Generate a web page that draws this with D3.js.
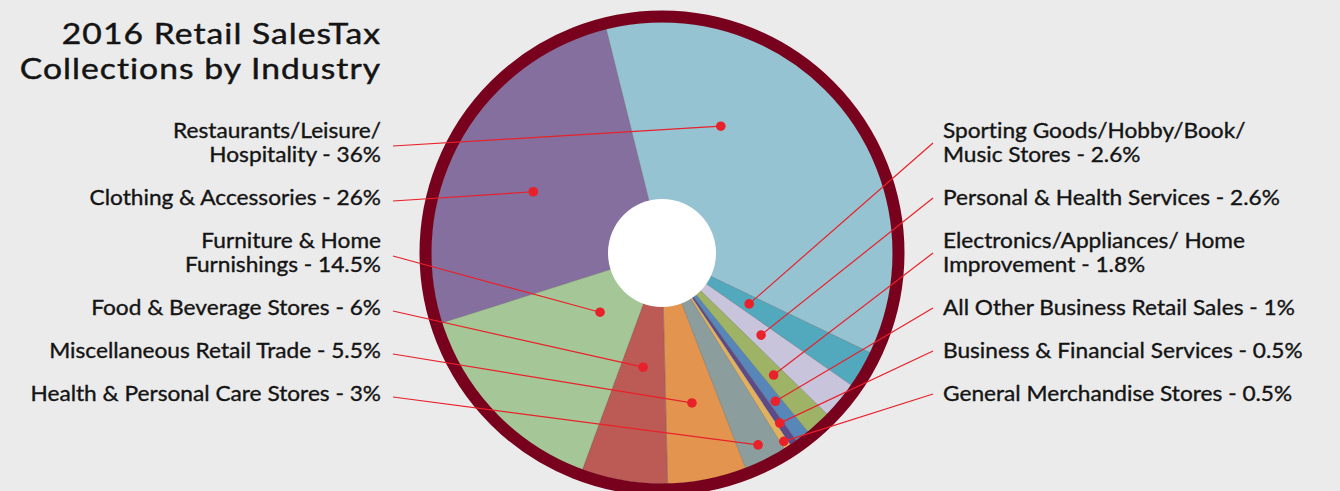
<!DOCTYPE html>
<html>
<head>
<meta charset="utf-8">
<script src="https://cdn.jsdelivr.net/npm/d3@7"></script>
<style>
  html, body { margin: 0; padding: 0; background: #ebebeb; }
  svg { display: block; }
  text { font-family: Lato, "Noto Sans", sans-serif; fill: #141414; }
</style>
</head>
<body>
<svg id="chart" width="1340" height="491"></svg>
<script>
// ---- data ----
const title = ["2016 Retail SalesTax", "Collections by Industry"];
const categories = [
  "Restaurants/Leisure/Hospitality",
  "Sporting Goods/Hobby/Book/Music Stores",
  "Personal & Health Services",
  "Electronics/Appliances/ Home Improvement",
  "All Other Business Retail Sales",
  "Business & Financial Services",
  "General Merchandise Stores",
  "Health & Personal Care Stores",
  "Miscellaneous Retail Trade",
  "Food & Beverage Stores",
  "Furniture & Home Furnishings",
  "Clothing & Accessories"
];
const values = [36, 2.6, 2.6, 1.8, 1, 0.5, 0.5, 3, 5.5, 6, 14.5, 26];
const labelLines = [
  ["Restaurants/Leisure/", "Hospitality"],
  ["Sporting Goods/Hobby/Book/", "Music Stores"],
  ["Personal & Health Services"],
  ["Electronics/Appliances/ Home", "Improvement"],
  ["All Other Business Retail Sales"],
  ["Business & Financial Services"],
  ["General Merchandise Stores"],
  ["Health & Personal Care Stores"],
  ["Miscellaneous Retail Trade"],
  ["Food & Beverage Stores"],
  ["Furniture & Home", "Furnishings"],
  ["Clothing & Accessories"]
];
const leftOrder = [0, 11, 10, 9, 8, 7];
const rightOrder = [1, 2, 3, 4, 5, 6];
const colors = ["#96c3d2", "#52a8bd", "#c8c4dc", "#9eb365", "#5786b8", "#5c4a89",
                "#e2b160", "#8b9e9d", "#e3954f", "#bc5b55", "#a5c798", "#856f9e"];

// ---- layout (not data) ----
const cx = 662, cy = 253, R = 231, holeR = 54, ringR = 236.5, ringW = 12;
const startDeg = -14;
const dotAngleFrac = [0.3, 0.5, 0.5, 0.5, 0.5, 0.5, 0.5, 0.5, 0.5, 0.5, 0.5, 0.46];
const dotRadiusFrac = [0.605, 0.437, 0.557, 0.716, 0.808, 0.896, 0.971, 0.929, 0.662, 0.501, 0.371, 0.617];
const labelSize = 21, titleSize = 29.5;
const labelSX = 1.08, titleSX = 1.14;               // horizontal widening of the typeface
const labelRefWidth = 337, titleRefWidth = 362;    // widths of reference strings in the picture

const svg = d3.select("#chart");

function fitSpacing(str, size, sx, target) {
  const t = svg.append("text").style("font-size", size + "px").text(str);
  const w = t.node().getComputedTextLength();
  t.remove();
  return (target / sx - w) / str.length;
}
const labelLS = fitSpacing("Personal & Health Services - 2.6%", labelSize, labelSX, labelRefWidth);
const titleLS = fitSpacing("Collections by Industry", titleSize, titleSX, titleRefWidth);

const g = svg.append("g").attr("transform", `translate(${cx},${cy})`);

const start = startDeg * Math.PI / 180;
const pie = d3.pie().sort(null).value(d => d).startAngle(start).endAngle(start + 2 * Math.PI);
const arcs = pie(values);
const arc = d3.arc().innerRadius(0).outerRadius(R);

g.selectAll("path.slice").data(arcs).enter().append("path")
  .attr("class", "slice")
  .attr("d", arc)
  .attr("fill", (d, i) => colors[i])
  .attr("stroke", "rgba(70,70,70,0.35)")
  .attr("stroke-width", 0.6);

g.append("circle").attr("r", ringR).attr("fill", "none")
  .attr("stroke", "#78021e").attr("stroke-width", ringW);
g.append("circle").attr("r", holeR).attr("fill", "#ffffff");

function dotPos(i) {
  const a = arcs[i];
  const ang = a.startAngle + (a.endAngle - a.startAngle) * dotAngleFrac[i];
  const r = R * dotRadiusFrac[i];
  return [cx + r * Math.sin(ang), cy - r * Math.cos(ang)];
}

function textBlock(lines, x, y, anchor, size, sx, ls, lh, sw) {
  const grp = svg.append("g").attr("transform", `translate(${x},${y}) scale(${sx},1)`);
  const t = grp.append("text").attr("text-anchor", anchor)
    .style("font-size", size + "px").style("letter-spacing", ls + "px")
    .attr("stroke", "#141414").attr("stroke-width", sw);
  const dx = anchor === "end" ? ls : 0;
  lines.forEach((l, k) => t.append("tspan").attr("x", dx).attr("y", k * lh).text(l));
}

// title
textBlock(title, 380, 44, "end", titleSize, titleSX, titleLS, 35, 0.45);

const lineH = 24, gap = 19;
function drawSide(order, side) {
  let y = 138;
  const textX = side === "left" ? 381 : 943;
  const lineX = side === "left" ? 393 : 933;
  const offs = side === "left" ? -4 : -7;
  order.forEach(i => {
    const lines = labelLines[i].slice();
    lines[lines.length - 1] = lines[lines.length - 1] + " - " + values[i] + "%";
    textBlock(lines, textX, y, side === "left" ? "end" : "start", labelSize, labelSX, labelLS, lineH, 0.35);
    const mid = y + (lines.length - 1) * lineH / 2 + offs;
    const [dx, dy] = dotPos(i);
    svg.append("line").attr("x1", lineX).attr("y1", mid).attr("x2", dx).attr("y2", dy)
      .attr("stroke", "#e8212a").attr("stroke-width", 1.2);
    svg.append("circle").attr("cx", dx).attr("cy", dy).attr("r", 4.8).attr("fill", "#e8212a");
    y += lines.length * lineH + gap;
  });
}
drawSide(leftOrder, "left");
drawSide(rightOrder, "right");
</script>
</body>
</html>
